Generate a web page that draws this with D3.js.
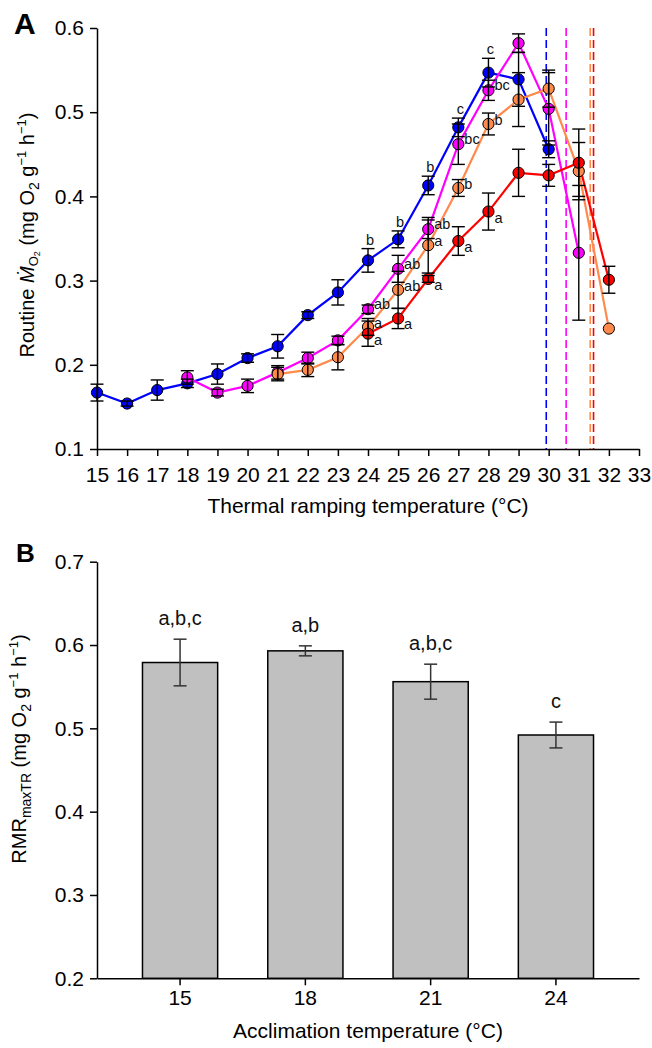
<!DOCTYPE html>
<html><head><meta charset="utf-8">
<script src="https://cdn.jsdelivr.net/npm/d3@7"></script>
<style>
body{margin:0;background:#fff;}
svg text{font-family:"Liberation Sans", Arial, Helvetica, sans-serif;}
</style></head>
<body><svg id="c" width="652" height="1048"></svg>
<script>
// ---------- Panel A data ----------
const xTicksA = [15,16,17,18,19,20,21,22,23,24,25,26,27,28,29,30,31,32,33];
const yTicksA = [0.1,0.2,0.3,0.4,0.5,0.6];

const temps15 = [15,16,17,18,19,20,21,22,23,24,25,26,27,28,29,30];
const mean15  = [0.167,0.154,0.170,0.178,0.189,0.208,0.222,0.259,0.286,0.324,0.349,0.413,0.482,0.547,0.539,0.456];
const err15   = [0.010,0.003,0.012,0.005,0.012,0.005,0.014,0.004,0.015,0.014,0.010,0.011,0.011,0.017,0.032,0.010];

const temps18 = [18,19,20,21,22,23,24,25,26,27,28,29,30,31];
const mean18  = [0.185,0.167,0.175,0.191,0.208,0.229,0.266,0.314,0.361,0.462,0.526,0.582,0.504,0.333];
const err18   = [0.008,0.004,0.008,0.008,0.007,0.005,0.005,0.016,0.011,0.024,0.012,0.011,0.043,0.080];

const temps21 = [21,22,23,24,25,26,27,28,29,30,31,32];
const mean21  = [0.189,0.194,0.209,0.245,0.289,0.342,0.410,0.486,0.515,0.528,0.430,0.243];
const err21   = [0.008,0.008,0.015,0.010,0.022,0.033,0.010,0.013,0.032,0.022,0.034,0];

const temps24 = [24,25,26,27,28,29,30,31,32];
const mean24  = [0.237,0.255,0.302,0.347,0.382,0.428,0.425,0.440,0.301];
const err24   = [0.015,0.012,0.004,0.017,0.022,0.028,0.013,0.040,0.016];

const letterTemps = [24,25,26,27,28];
const letters15 = ["b","b","b","c","c"];
const letters18 = ["ab","ab","ab","bc","bc"];
const letters21 = ["a","ab","a","b","b"];
const letters24 = ["a","a","a","a","a"];

const ctmax = [29.92,30.58,31.38,31.49];

// ---------- Panel B data ----------
const accTemps = ["15","18","21","24"];
const rmrMean = [0.579,0.593,0.556,0.492];
const rmrErr  = [0.028,0.006,0.021,0.0155];
const rmrLetters = ["a,b,c","a,b","a,b,c","c"];
const yTicksB = [0.2,0.3,0.4,0.5,0.6,0.7];

const colors = ["#0000FF","#FF00FF","#FF8A4C","#FF0000"];

const svg = d3.select("#c");

function styleAxis(g, fs){
  g.select(".domain").attr("stroke","#000").attr("stroke-width",1.5);
  g.selectAll(".tick line").attr("stroke","#000").attr("stroke-width",1.5);
  g.selectAll(".tick text").attr("fill","#000").style("font-size",fs+"px");
}

// ================= Panel A =================
const xA = d3.scaleLinear().domain([15,33]).range([97,639]);
const yA = d3.scaleLinear().domain([0.1,0.6]).range([449,28]);

const series = [
  {t:temps15,m:mean15,e:err15,c:colors[0],l:letters15,above:true},
  {t:temps18,m:mean18,e:err18,c:colors[1],l:letters18,dy:0},
  {t:temps21,m:mean21,e:err21,c:colors[2],l:letters21,dy:1},
  {t:temps24,m:mean24,e:err24,c:colors[3],l:letters24,dy:11}
].map(s=>({...s, pts:s.t.map((t,i)=>({t, m:s.m[i], e:s.e[i]}))}));

// dashed CTmax lines
svg.append("g").selectAll("line").data(ctmax).join("line")
  .attr("x1",d=>xA(d)).attr("x2",d=>xA(d))
  .attr("y1",yA(0.6)).attr("y2",yA(0.1))
  .attr("stroke",(d,i)=>colors[i]).attr("stroke-width",1.6)
  .attr("stroke-dasharray","8,4");

const line = d3.line().x(d=>xA(d.t)).y(d=>yA(d.m));
series.forEach(s=>{
  svg.append("path").datum(s.pts).attr("d",line)
    .attr("fill","none").attr("stroke",s.c).attr("stroke-width",2.2);
});
series.forEach(s=>{
  svg.append("g").selectAll("circle").data(s.pts).join("circle")
    .attr("cx",d=>xA(d.t)).attr("cy",d=>yA(d.m)).attr("r",5.6)
    .attr("fill",s.c).attr("stroke","#000").attr("stroke-width",1);
});
series.forEach(s=>{
  const g = svg.append("g").attr("stroke","#000").attr("stroke-width",1.4);
  s.pts.filter(d=>d.e>0).forEach(d=>{
    const x = xA(d.t), y1 = yA(d.m+d.e), y2 = yA(d.m-d.e);
    g.append("line").attr("x1",x).attr("x2",x).attr("y1",y1).attr("y2",y2);
    g.append("line").attr("x1",x-6.5).attr("x2",x+6.5).attr("y1",y1).attr("y2",y1);
    g.append("line").attr("x1",x-6.5).attr("x2",x+6.5).attr("y1",y2).attr("y2",y2);
  });
});
series.forEach(s=>{
  letterTemps.forEach((t,i)=>{
    const d = s.pts.find(p=>p.t===t);
    const tx = svg.append("text").text(s.l[i]).style("font-size","14.5px").attr("fill","#111");
    if(s.above){
      tx.attr("x",xA(t)+2).attr("y",yA(d.m+d.e)-4).attr("text-anchor","middle");
    } else {
      tx.attr("x",xA(t)+6).attr("y",yA(d.m)+s.dy).attr("text-anchor","start");
    }
  });
});

const gxA = svg.append("g").attr("transform","translate(0,449)")
  .call(d3.axisBottom(xA).tickValues(xTicksA).tickFormat(d3.format("d")).tickSize(7).tickSizeOuter(0).tickPadding(11));
styleAxis(gxA,21);
const gyA = svg.append("g").attr("transform","translate(97,0)")
  .call(d3.axisLeft(yA).tickValues(yTicksA).tickFormat(d3.format(".1f")).tickSize(7).tickSizeOuter(0).tickPadding(6));
styleAxis(gyA,21);

svg.append("text").attr("x",368).attr("y",513).attr("text-anchor","middle")
  .style("font-size","21px").text("Thermal ramping temperature (°C)");

const tA = svg.append("text").attr("transform","translate(34,235) rotate(-90)")
  .attr("text-anchor","middle").style("font-size","20px");
tA.append("tspan").text("Routine ");
tA.append("tspan").text("Ṁ").style("font-style","italic");
tA.append("tspan").text("O").style("font-size","13px").attr("dy",4);
tA.append("tspan").text("2").style("font-size","9px").attr("dy",2);
tA.append("tspan").text(" (mg O").attr("dy",-6);
tA.append("tspan").text("2").style("font-size","14px").attr("dy",5);
tA.append("tspan").text(" g").attr("dy",-5);
tA.append("tspan").text("−1").style("font-size","13px").attr("dy",-8);
tA.append("tspan").text(" h").attr("dy",8);
tA.append("tspan").text("−1").style("font-size","13px").attr("dy",-8);
tA.append("tspan").text(")").attr("dy",8);

svg.append("text").attr("x",14).attr("y",34).style("font-size","30px")
  .style("font-weight","bold").text("A");

// ================= Panel B =================
const xB = d3.scaleBand().domain(accTemps).range([97,639]).paddingInner(0.4).paddingOuter(0.363);
const yB = d3.scaleLinear().domain([0.2,0.7]).range([978.3,561.7]);

svg.append("g").selectAll("rect").data(accTemps).join("rect")
  .attr("x",d=>xB(d)).attr("width",xB.bandwidth())
  .attr("y",(d,i)=>yB(rmrMean[i])).attr("height",(d,i)=>yB(0.2)-yB(rmrMean[i]))
  .attr("fill","#C0C0C0").attr("stroke","#000").attr("stroke-width",1.5);

const geB = svg.append("g").attr("stroke","#333").attr("stroke-width",1.5);
accTemps.forEach((c,i)=>{
  const x = xB(c)+xB.bandwidth()/2, y1=yB(rmrMean[i]+rmrErr[i]), y2=yB(rmrMean[i]-rmrErr[i]);
  geB.append("line").attr("x1",x).attr("x2",x).attr("y1",y1).attr("y2",y2);
  geB.append("line").attr("x1",x-6.5).attr("x2",x+6.5).attr("y1",y1).attr("y2",y1);
  geB.append("line").attr("x1",x-6.5).attr("x2",x+6.5).attr("y1",y2).attr("y2",y2);
  svg.append("text").attr("x",x).attr("y",y1-14).attr("text-anchor","middle")
    .style("font-size","20px").attr("fill","#111").text(rmrLetters[i]);
});

const gxB = svg.append("g").attr("transform","translate(0,978.3)")
  .call(d3.axisBottom(xB).tickSize(7).tickSizeOuter(0).tickPadding(5));
styleAxis(gxB,21);
const gyB = svg.append("g").attr("transform","translate(97,0)")
  .call(d3.axisLeft(yB).tickValues(yTicksB).tickFormat(d3.format(".1f")).tickSize(7).tickSizeOuter(0).tickPadding(6));
styleAxis(gyB,21);

svg.append("text").attr("x",368).attr("y",1038).attr("text-anchor","middle")
  .style("font-size","21px").text("Acclimation temperature (°C)");

const tB = svg.append("text").attr("transform","translate(26,749) rotate(-90)")
  .attr("text-anchor","middle").style("font-size","20px");
tB.append("tspan").text("RMR");
tB.append("tspan").text("maxTR").style("font-size","14px").attr("dy",5);
tB.append("tspan").text(" (mg O").attr("dy",-5);
tB.append("tspan").text("2").style("font-size","14px").attr("dy",5);
tB.append("tspan").text(" g").attr("dy",-5);
tB.append("tspan").text("−1").style("font-size","13px").attr("dy",-8);
tB.append("tspan").text(" h").attr("dy",8);
tB.append("tspan").text("−1").style("font-size","13px").attr("dy",-8);
tB.append("tspan").text(")").attr("dy",8);

svg.append("text").attr("x",16).attr("y",562).style("font-size","26px")
  .style("font-weight","bold").text("B");
</script>
</body></html>
